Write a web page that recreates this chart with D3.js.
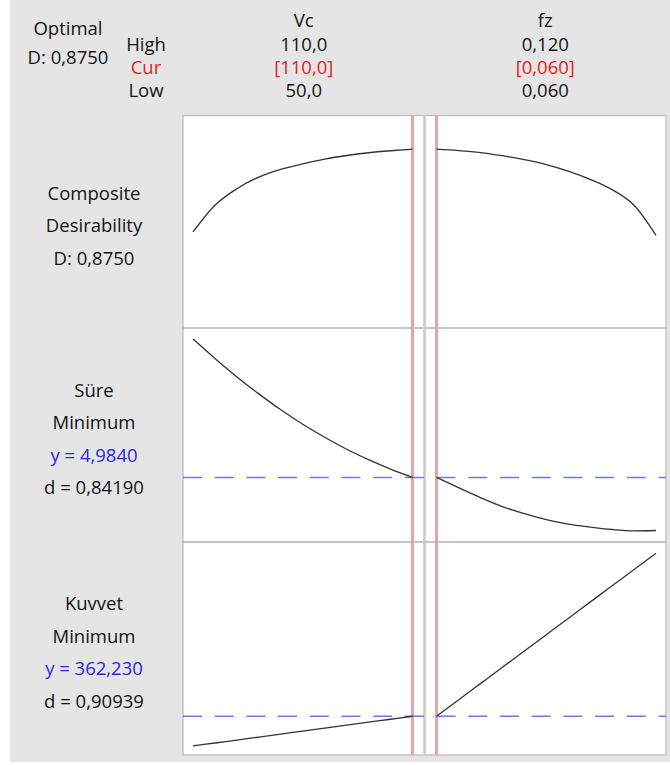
<!DOCTYPE html>
<html>
<head>
<meta charset="utf-8">
<script src="https://cdn.jsdelivr.net/npm/d3@7"></script>
<style>
  html, body { margin: 0; padding: 0; background: #ffffff; }
  svg { display: block; }
  text { font-family: "Open Sans", "Segoe UI", sans-serif; }
</style>
</head>
<body>
<svg id="chart" width="670" height="765"></svg>
<script>
// ---------------- DATA ----------------
const factors = ["Vc", "fz"];
const factorHigh = ["110,0", "0,120"];
const factorCur = ["[110,0]", "[0,060]"];
const factorLow = ["50,0", "0,060"];
const vcDomain = [50, 110];
const fzDomain = [0.060, 0.120];
const vcCurrent = 110;
const fzCurrent = 0.060;

const vcGrid = [50, 56, 62, 68, 74, 80, 86, 92, 98, 104, 110];
const fzGrid = [0.060, 0.066, 0.072, 0.078, 0.084, 0.090, 0.096, 0.102, 0.108, 0.114, 0.120];

// Composite desirability
const compositeVc = [0.456, 0.591, 0.675, 0.734, 0.773, 0.801, 0.825, 0.843, 0.857, 0.867, 0.875];
const compositeFz = [0.875, 0.868, 0.858, 0.842, 0.822, 0.797, 0.764, 0.722, 0.670, 0.591, 0.439];
const compositeDomain = [0, 1];

// Süre (minimize)
const sureVc = [7.76, 7.37, 7.00, 6.66, 6.34, 6.05, 5.79, 5.55, 5.34, 5.15, 4.984];
const sureFz = [4.984, 4.78, 4.58, 4.40, 4.26, 4.14, 4.05, 3.99, 3.94, 3.914, 3.92];
const sureDomain = [3.81, 7.80];
const sureY = 4.984;

// Kuvvet (minimize)
const kuvvetVc = [325.1, 328.8, 332.5, 336.2, 340.0, 343.7, 347.4, 351.1, 354.8, 358.5, 362.23];
const kuvvetFz = [362.23, 382.6, 403.0, 423.4, 443.7, 464.1, 484.5, 504.9, 525.3, 545.6, 566.0];
const kuvvetDomain = [321.3, 568.8];
const kuvvetY = 362.23;

const rowLabels = [
  [{t: "Composite", c: "text"}, {t: "Desirability", c: "text"}, {t: "D: 0,8750", c: "text"}],
  [{t: "Süre", c: "text"}, {t: "Minimum", c: "text"}, {t: "y = 4,9840", c: "blue"}, {t: "d = 0,84190", c: "text"}],
  [{t: "Kuvvet", c: "text"}, {t: "Minimum", c: "text"}, {t: "y = 362,230", c: "blue"}, {t: "d = 0,90939", c: "text"}]
];
const optimalLabels = ["Optimal", "D: 0,8750"];
const levelLabels = ["High", "Cur", "Low"];

// ---------------- LAYOUT ----------------
const W = 670, H = 765;
const bg = {x0: 10, x1: 670, y0: 0, y1: 762};
const plot = {x0: 183, x1: 666, y0: 115.5, y1: 755};
const rowEdges = [115.5, 328, 542, 755];
const colMid = 424.5;
const padOuter = 10, padInner = 12;
const padTop = 9, padBottom = 6;

const colors = {
  bg: "#e5e5e5", text: "#141414", red: "#e02424", blue: "#2a2ae0",
  redLine: "#e9a3a3", midLine: "#c9c9c9", border: "#c4c4c4", sep: "#b2b2b2",
  curve: "#333333", dash: "#7474f0"
};
const fontSize = 18.5;

const svg = d3.select("#chart");

// background
svg.append("rect").attr("x", bg.x0).attr("y", bg.y0)
  .attr("width", bg.x1 - bg.x0).attr("height", bg.y1 - bg.y0).attr("fill", colors.bg);

// plot area
svg.append("rect").attr("x", plot.x0).attr("y", plot.y0)
  .attr("width", plot.x1 - plot.x0).attr("height", plot.y1 - plot.y0)
  .attr("fill", "#ffffff").attr("stroke", colors.border).attr("stroke-width", 1.5);

// x scales
const xVc = d3.scaleLinear().domain(vcDomain).range([plot.x0 + padOuter, colMid - padInner]);
const xFz = d3.scaleLinear().domain(fzDomain).range([colMid + padInner, plot.x1 - padOuter]);

function yScale(row, domain) {
  return d3.scaleLinear().domain(domain)
    .range([rowEdges[row + 1] - padBottom, rowEdges[row] + padTop]);
}
const yScales = [yScale(0, compositeDomain), yScale(1, sureDomain), yScale(2, kuvvetDomain)];

// row separators
svg.selectAll("line.sep").data(rowEdges.slice(1, 3)).join("line")
  .attr("class", "sep")
  .attr("x1", plot.x0).attr("x2", plot.x1)
  .attr("y1", d => d).attr("y2", d => d)
  .attr("stroke", colors.sep).attr("stroke-width", 1.6);

// vertical lines: mid divider and current settings
svg.append("line").attr("x1", colMid).attr("x2", colMid)
  .attr("y1", plot.y0).attr("y2", plot.y1)
  .attr("stroke", colors.midLine).attr("stroke-width", 2.5);
[xVc(vcCurrent), xFz(fzCurrent)].forEach(x => {
  svg.append("line").attr("x1", x).attr("x2", x)
    .attr("y1", plot.y0).attr("y2", plot.y1)
    .attr("stroke", colors.redLine).attr("stroke-width", 3);
});

// dashed target lines
[[1, sureY], [2, kuvvetY]].forEach(([row, v]) => {
  const y = yScales[row](v);
  svg.append("line").attr("x1", plot.x0).attr("x2", plot.x1)
    .attr("y1", y).attr("y2", y)
    .attr("stroke", colors.dash).attr("stroke-width", 1.6)
    .attr("stroke-dasharray", "19,12.7");
});

// curves
const series = [
  [0, compositeVc, compositeFz],
  [1, sureVc, sureFz],
  [2, kuvvetVc, kuvvetFz]
];
series.forEach(([row, vVc, vFz]) => {
  const ys = yScales[row];
  const lineVc = d3.line().x((d, i) => xVc(vcGrid[i])).y(d => ys(d)).curve(d3.curveMonotoneX);
  const lineFz = d3.line().x((d, i) => xFz(fzGrid[i])).y(d => ys(d)).curve(d3.curveMonotoneX);
  svg.append("path").attr("d", lineVc(vVc)).attr("fill", "none")
    .attr("stroke", colors.curve).attr("stroke-width", 1.3);
  svg.append("path").attr("d", lineFz(vFz)).attr("fill", "none")
    .attr("stroke", colors.curve).attr("stroke-width", 1.3);
});

// header texts
const hdr = svg.append("g").attr("font-size", fontSize).attr("text-anchor", "middle");
hdr.append("text").attr("x", 68).attr("y", 35).attr("fill", colors.text).text(optimalLabels[0]);
hdr.append("text").attr("x", 68).attr("y", 64).attr("fill", colors.text).text(optimalLabels[1]);
const levelY = [51, 74, 97];
levelLabels.forEach((t, i) => {
  hdr.append("text").attr("x", 146).attr("y", levelY[i])
    .attr("fill", i === 1 ? colors.red : colors.text).text(t);
});
const colCenters = [(plot.x0 + colMid) / 2, (colMid + plot.x1) / 2];
factors.forEach((f, j) => {
  const cx = colCenters[j];
  hdr.append("text").attr("x", cx).attr("y", 27).attr("fill", colors.text).text(f);
  hdr.append("text").attr("x", cx).attr("y", levelY[0]).attr("fill", colors.text).text(factorHigh[j]);
  hdr.append("text").attr("x", cx).attr("y", levelY[1]).attr("fill", colors.red).text(factorCur[j]);
  hdr.append("text").attr("x", cx).attr("y", levelY[2]).attr("fill", colors.text).text(factorLow[j]);
});

// row labels
const lineGap = 32.5;
rowLabels.forEach((labels, r) => {
  const center = (rowEdges[r] + rowEdges[r + 1]) / 2;
  const n = labels.length;
  labels.forEach((l, i) => {
    svg.append("text").attr("x", 94)
      .attr("y", center + (i - (n - 1) / 2) * lineGap + 10.7)
      .attr("text-anchor", "middle").attr("font-size", fontSize)
      .attr("fill", l.c === "blue" ? colors.blue : colors.text)
      .text(l.t);
  });
});
</script>
</body>
</html>
